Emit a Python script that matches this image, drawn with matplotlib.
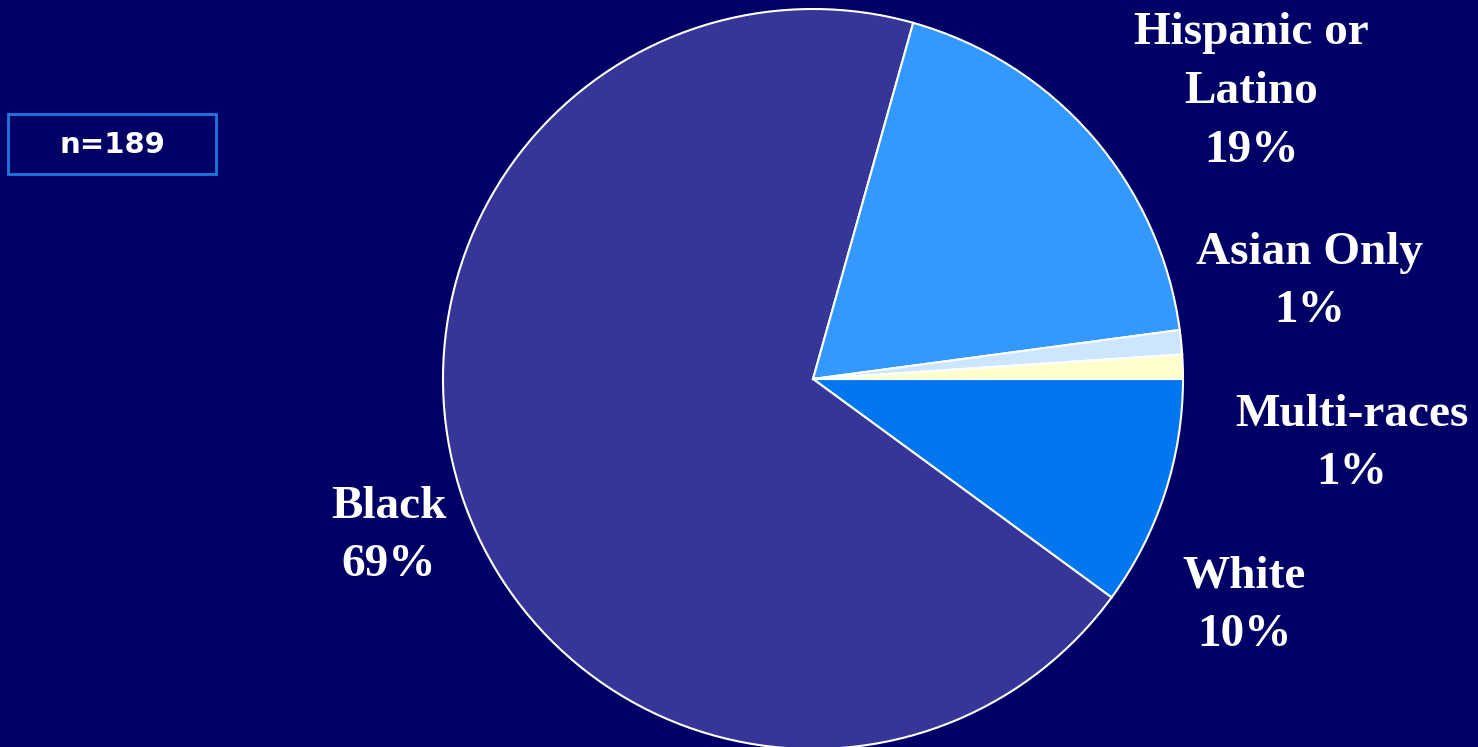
import matplotlib
matplotlib.use("Agg")
import matplotlib.pyplot as plt

# race breakdown, n=189 (counts read back from the slice angles)
groups = ["White", "Black", "Hispanic or\nLatino", "Asian Only", "Multi-races"]
counts = [19, 131, 35, 2, 2]
pct_labels = ["10%", "69%", "19%", "1%", "1%"]
colors = ["#0077EE", "#363698", "#3399FF", "#CCE6FF", "#FFFFCC"]

BG = "#000066"
W, H = 1478, 747

fig = plt.figure(figsize=(W / 100, H / 100), dpi=100, facecolor=BG)
ax = fig.add_axes([0, 0, 1, 1])
ax.set_facecolor(BG)

ax.pie(counts, colors=colors, startangle=0, counterclock=False,
       center=(813, H - 379), radius=370, frame=True,
       wedgeprops=dict(edgecolor="white", linewidth=1.5))
ax.set_xlim(0, W)
ax.set_ylim(0, H)
ax.set_aspect("equal")
ax.axis("off")

# label anchor points (pixel coords from top-left), centre of text block
label_pos = {
    "White": (1244, 606),
    "Black": (389, 536),
    "Hispanic or\nLatino": (1251, 92),
    "Asian Only": (1310, 282),
    "Multi-races": (1352, 444),
}
for g, p in zip(groups, pct_labels):
    x, y = label_pos[g]
    ax.text(x, H - y, f"{g}\n{p}", ha="center", va="center", color="white",
            fontsize=34, fontweight="bold", family="Liberation Serif",
            linespacing=1.53)

# sample size box
ax.text(112, H - 145, "n=189", ha="center", va="center", color="white",
        fontsize=21, fontweight="bold", family="DejaVu Sans")
ax.add_patch(plt.Rectangle((8, H - 174), 208, 60, fill=False,
                           edgecolor="#1E78E0", linewidth=2))

fig.savefig("out.png", dpi=100, facecolor=BG)
